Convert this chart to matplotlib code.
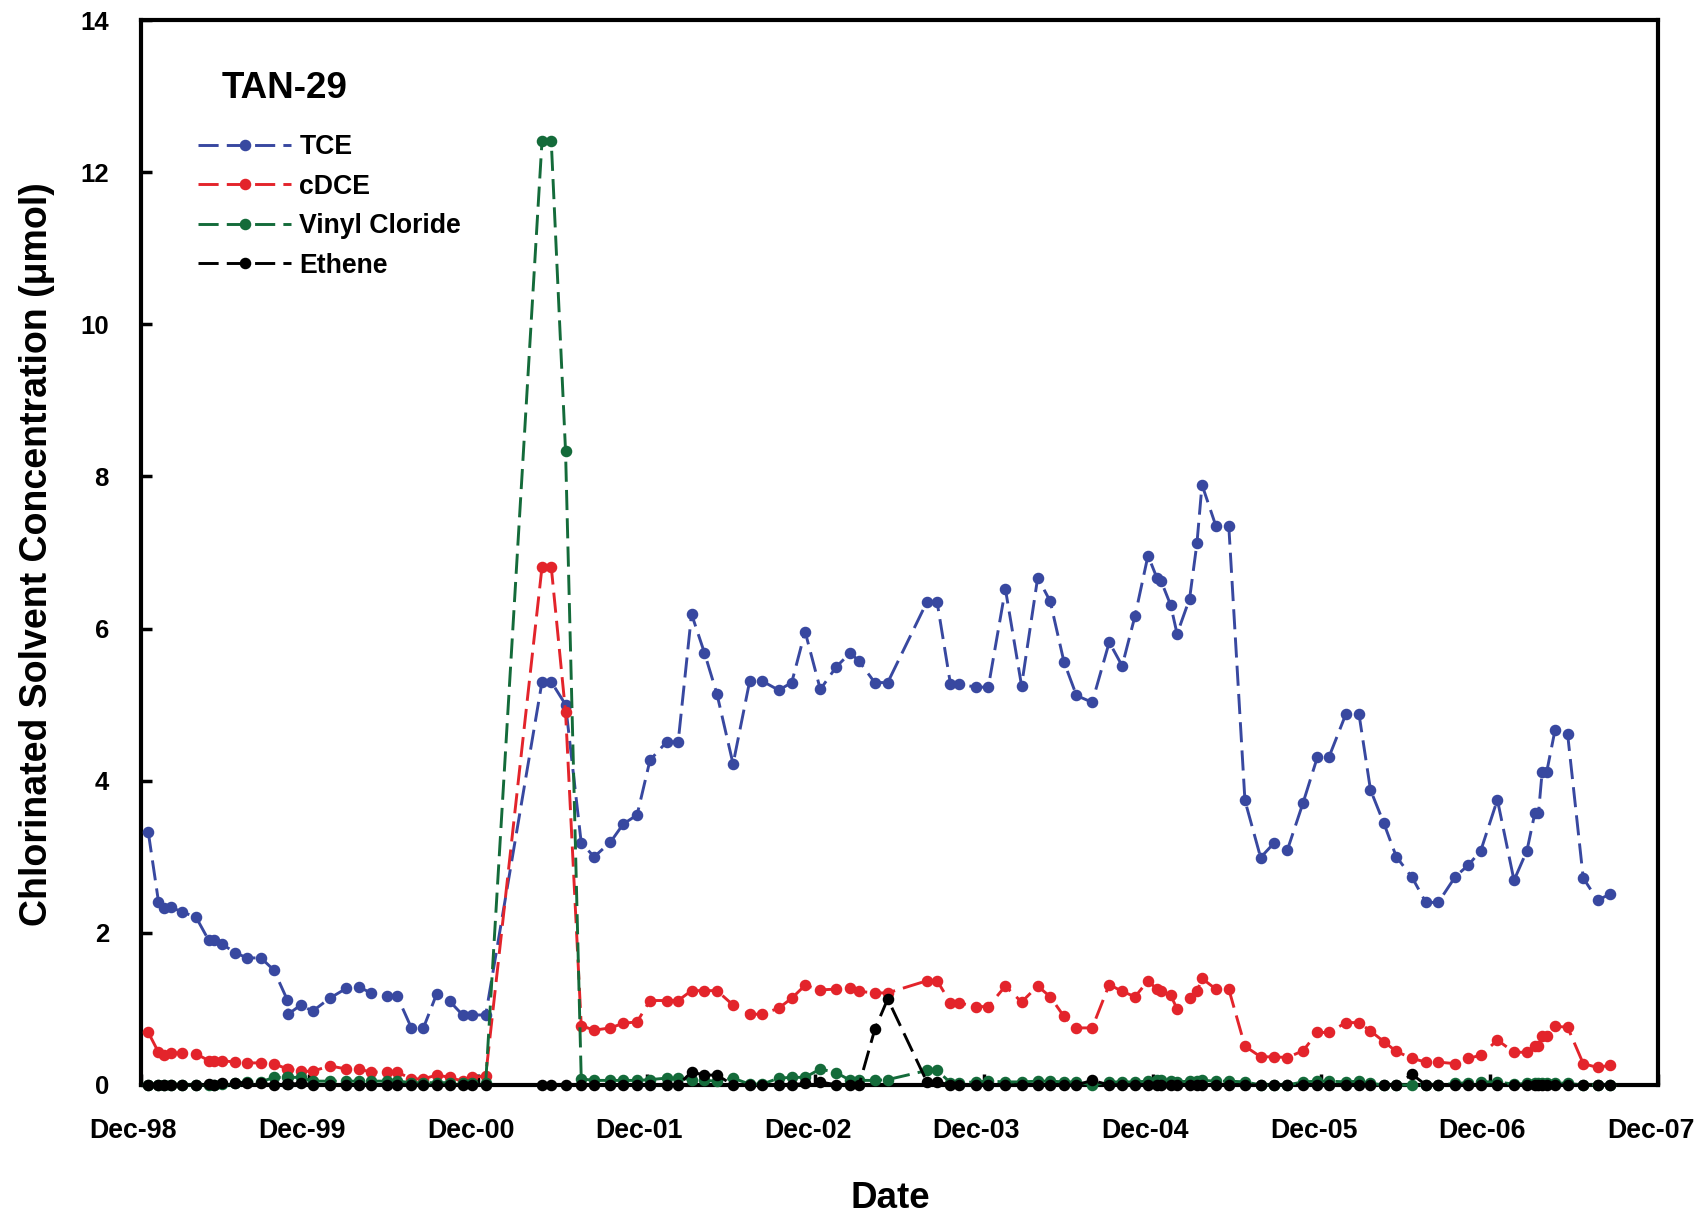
import numpy as np
import pandas as pd
import matplotlib
matplotlib.use('Agg')
import matplotlib.pyplot as plt
import matplotlib.dates as mdates
from matplotlib.transforms import ScaledTranslation

plt.rcParams['font.family'] = ['Liberation Sans', 'DejaVu Sans']
plt.rcParams['font.weight'] = 'bold'

# sampling dates for well TAN-29
dates = [
    '1998-12-17', '1999-01-08', '1999-01-21', '1999-02-04', '1999-03-01', '1999-03-30',
    '1999-04-27', '1999-05-08', '1999-05-26', '1999-06-23', '1999-07-19', '1999-08-18',
    '1999-09-15', '1999-10-14', '1999-10-16', '1999-11-12', '1999-12-08', '2000-01-14',
    '2000-02-19', '2000-03-17', '2000-04-12', '2000-05-17', '2000-06-08', '2000-07-09',
    '2000-08-04', '2000-09-02', '2000-09-30', '2000-10-28', '2000-11-17', '2000-12-17',
    '2001-04-18', '2001-05-08', '2001-06-08', '2001-07-12', '2001-08-09', '2001-09-13',
    '2001-10-11', '2001-11-10', '2001-12-08', '2002-01-13', '2002-02-07', '2002-03-08',
    '2002-04-05', '2002-05-02', '2002-06-06', '2002-07-12', '2002-08-08', '2002-09-13',
    '2002-10-11', '2002-11-09', '2002-12-12', '2003-01-16', '2003-02-15', '2003-03-06',
    '2003-04-09', '2003-05-07', '2003-07-31', '2003-08-22', '2003-09-20', '2003-10-08',
    '2003-11-14', '2003-12-11', '2004-01-17', '2004-02-21', '2004-03-27', '2004-04-23',
    '2004-05-23', '2004-06-19', '2004-07-23', '2004-08-29', '2004-09-26', '2004-10-24',
    '2004-11-21', '2004-12-10', '2004-12-19', '2005-01-09', '2005-01-23', '2005-02-19',
    '2005-03-07', '2005-03-18', '2005-04-17', '2005-05-15', '2005-06-19', '2005-07-23',
    '2005-08-21', '2005-09-19', '2005-10-23', '2005-11-23', '2005-12-18', '2006-01-24',
    '2006-02-21', '2006-03-18', '2006-04-16', '2006-05-13', '2006-06-16', '2006-07-16',
    '2006-08-12', '2006-09-18', '2006-10-16', '2006-11-12', '2006-12-18', '2007-01-23',
    '2007-02-20', '2007-03-09', '2007-03-17', '2007-03-25', '2007-04-04', '2007-04-22',
    '2007-05-19', '2007-06-22', '2007-07-23', '2007-08-20',
]

tce = [
    3.32, 2.41, 2.33, 2.34, 2.27, 2.21, 1.90, 1.90, 1.85, 1.74, 1.67, 1.67,
    1.51, 1.12, 0.93, 1.05, 0.97, 1.14, 1.27, 1.29, 1.21, 1.17, 1.17, 0.75,
    0.75, 1.20, 1.10, 0.92, 0.92, 0.92,
    5.30, 5.30, 5.00, 3.18, 3.00, 3.19, 3.43, 3.55, 4.27, 4.51, 4.51, 6.19,
    5.68, 5.14, 4.22, 5.31, 5.31, 5.19, 5.29, 5.96, 5.20, 5.50, 5.68, 5.57,
    5.29, 5.29, 6.35, 6.35, 5.27, 5.27, 5.23, 5.23, 6.52, 5.25, 6.67, 6.36,
    5.56, 5.12, 5.03, 5.82, 5.51, 6.17, 6.96, 6.67, 6.63, 6.31, 5.93, 6.39,
    7.12, 7.89, 7.35, 7.35, 3.74, 2.99, 3.18, 3.09, 3.71, 4.31, 4.31, 4.88,
    4.88, 3.88, 3.44, 3.00, 2.73, 2.40, 2.40, 2.74, 2.89, 3.08, 3.75, 2.69,
    3.08, 3.57, 3.57, 4.12, 4.12, 4.67, 4.62, 2.72, 2.43, 2.51,
]

cdce = [
    0.69, 0.43, 0.40, 0.42, 0.42, 0.41, 0.32, 0.32, 0.32, 0.30, 0.29, 0.29,
    0.28, 0.21, 0.21, 0.18, 0.18, 0.25, 0.21, 0.21, 0.17, 0.17, 0.17, 0.08,
    0.08, 0.13, 0.10, 0.05, 0.10, 0.12,
    6.81, 6.81, 4.90, 0.78, 0.72, 0.75, 0.81, 0.83, 1.11, 1.11, 1.11, 1.24,
    1.24, 1.24, 1.05, 0.93, 0.93, 1.01, 1.14, 1.31, 1.25, 1.26, 1.27, 1.23,
    1.21, 1.21, 1.37, 1.37, 1.08, 1.08, 1.03, 1.03, 1.30, 1.09, 1.30, 1.16,
    0.90, 0.75, 0.75, 1.32, 1.23, 1.16, 1.37, 1.26, 1.23, 1.18, 1.00, 1.14,
    1.23, 1.40, 1.26, 1.26, 0.51, 0.37, 0.37, 0.36, 0.45, 0.69, 0.69, 0.82,
    0.82, 0.71, 0.57, 0.44, 0.35, 0.30, 0.30, 0.28, 0.35, 0.39, 0.59, 0.43,
    0.43, 0.51, 0.51, 0.64, 0.64, 0.77, 0.76, 0.28, 0.23, 0.26,
]

vinyl_chloride = [
    0.00, 0.00, 0.00, 0.00, 0.00, 0.00, 0.00, 0.00, 0.01, 0.02, 0.04, 0.04,
    0.10, 0.10, 0.10, 0.10, 0.05, 0.05, 0.05, 0.05, 0.05, 0.05, 0.05, 0.03,
    0.03, 0.03, 0.03, 0.03, 0.03, 0.03,
    12.41, 12.41, 8.33, 0.08, 0.06, 0.06, 0.06, 0.06, 0.07, 0.09, 0.09, 0.07,
    0.06, 0.05, 0.09, 0.01, 0.01, 0.09, 0.10, 0.10, 0.21, 0.16, 0.06, 0.06,
    0.06, 0.07, 0.19, 0.19, 0.03, 0.03, 0.04, 0.05, 0.04, 0.04, 0.05, 0.05,
    0.04, 0.04, 0.00, 0.04, 0.04, 0.04, 0.05, 0.06, 0.06, 0.05, 0.04, 0.05,
    0.05, 0.06, 0.05, 0.05, 0.04, 0.00, 0.00, 0.00, 0.04, 0.05, 0.05, 0.04,
    0.05, 0.02, 0.00, 0.00, 0.00, 0.00, 0.00, 0.02, 0.03, 0.04, 0.04, 0.01,
    0.02, 0.03, 0.03, 0.03, 0.03, 0.03, 0.02, 0.00, 0.00, 0.00,
]

ethene = [
    0.00, 0.00, 0.00, 0.00, 0.00, 0.00, 0.01, 0.00, 0.02, 0.03, 0.03, 0.02,
    0.00, 0.01, 0.01, 0.02, 0.00, 0.00, 0.00, 0.00, 0.00, 0.00, 0.00, 0.00,
    0.00, 0.00, 0.00, 0.00, 0.00, 0.00,
    0.00, 0.00, 0.00, 0.00, 0.00, 0.00, 0.00, 0.00, 0.00, 0.00, 0.00, 0.17,
    0.13, 0.13, 0.00, 0.00, 0.00, 0.00, 0.00, 0.02, 0.04, 0.00, 0.00, 0.00,
    0.73, 1.13, 0.04, 0.04, 0.00, 0.00, 0.00, 0.00, 0.00, 0.00, 0.00, 0.00,
    0.00, 0.00, 0.06, 0.00, 0.00, 0.00, 0.00, 0.00, 0.00, 0.00, 0.00, 0.00,
    0.00, 0.00, 0.00, 0.00, 0.00, 0.00, 0.00, 0.00, 0.00, 0.00, 0.00, 0.00,
    0.00, 0.00, 0.00, 0.00, 0.14, 0.00, 0.00, 0.00, 0.00, 0.00, 0.00, 0.00,
    0.00, 0.00, 0.00, 0.00, 0.00, 0.00, 0.00, 0.00, 0.00, 0.00,
]

labels = ['TCE', 'cDCE', 'Vinyl Cloride', 'Ethene']
colors = ['#3848A0', '#E3242B', '#146B3A', '#000000']

t = pd.to_datetime(dates)

fig = plt.figure(figsize=(16.96, 12.14), dpi=100)
ax = fig.add_axes([0.0831, 0.1063, 0.8945, 0.8772])

lw = 2.1
for y, lab, c in zip([tce, cdce, vinyl_chloride, ethene], labels, colors):
    ax.plot(t, y, color=c, lw=lw, dashes=(6.9, 2.8), marker='o', ms=7.3,
            mec=c, mfc=c, label=lab, clip_on=False, zorder=3)

ax.set_ylim(0, 14)
ax.set_yticks(np.arange(0, 15, 2))
ax.set_xlim(pd.Timestamp('1998-12-01'), pd.Timestamp('2007-12-01'))
ax.set_xticks(pd.date_range('1998-12-01', '2007-12-01', freq='12MS'))
ax.xaxis.set_major_formatter(mdates.DateFormatter('%b-%y'))

for s in ax.spines.values():
    s.set_linewidth(3)
ax.tick_params(axis='both', direction='in', width=2.5, length=8)
ax.tick_params(axis='x', labelsize=19.3, pad=24)
ax.tick_params(axis='y', labelsize=18.5, pad=23)
shift = ScaledTranslation(-0.075, 0, fig.dpi_scale_trans)
for lbl in ax.get_xticklabels():
    lbl.set_fontweight('bold')
    lbl.set_transform(lbl.get_transform() + shift)
for lbl in ax.get_yticklabels():
    lbl.set_fontweight('bold')

fig.text(0.5252, 0.0047, 'Date', fontsize=26.5, fontweight='bold',
         ha='center', va='baseline')
fig.text(0.0216, 0.5437, 'Chlorinated Solvent Concentration (\u03bcmol)',
         fontsize=27, fontweight='bold', rotation=90, ha='center', va='center')

ax.text(0.0532, 0.9265, 'TAN-29', transform=ax.transAxes, fontsize=26.5,
        fontweight='bold', ha='left', va='baseline')
ax.legend(loc='upper left', bbox_to_anchor=(0.0376, 0.893), frameon=False,
          prop={'size': 19.2, 'weight': 'bold'}, handlelength=3.5,
          handletextpad=0.3, labelspacing=0.51, borderpad=0, borderaxespad=0)

fig.savefig('out.png', dpi=100)
